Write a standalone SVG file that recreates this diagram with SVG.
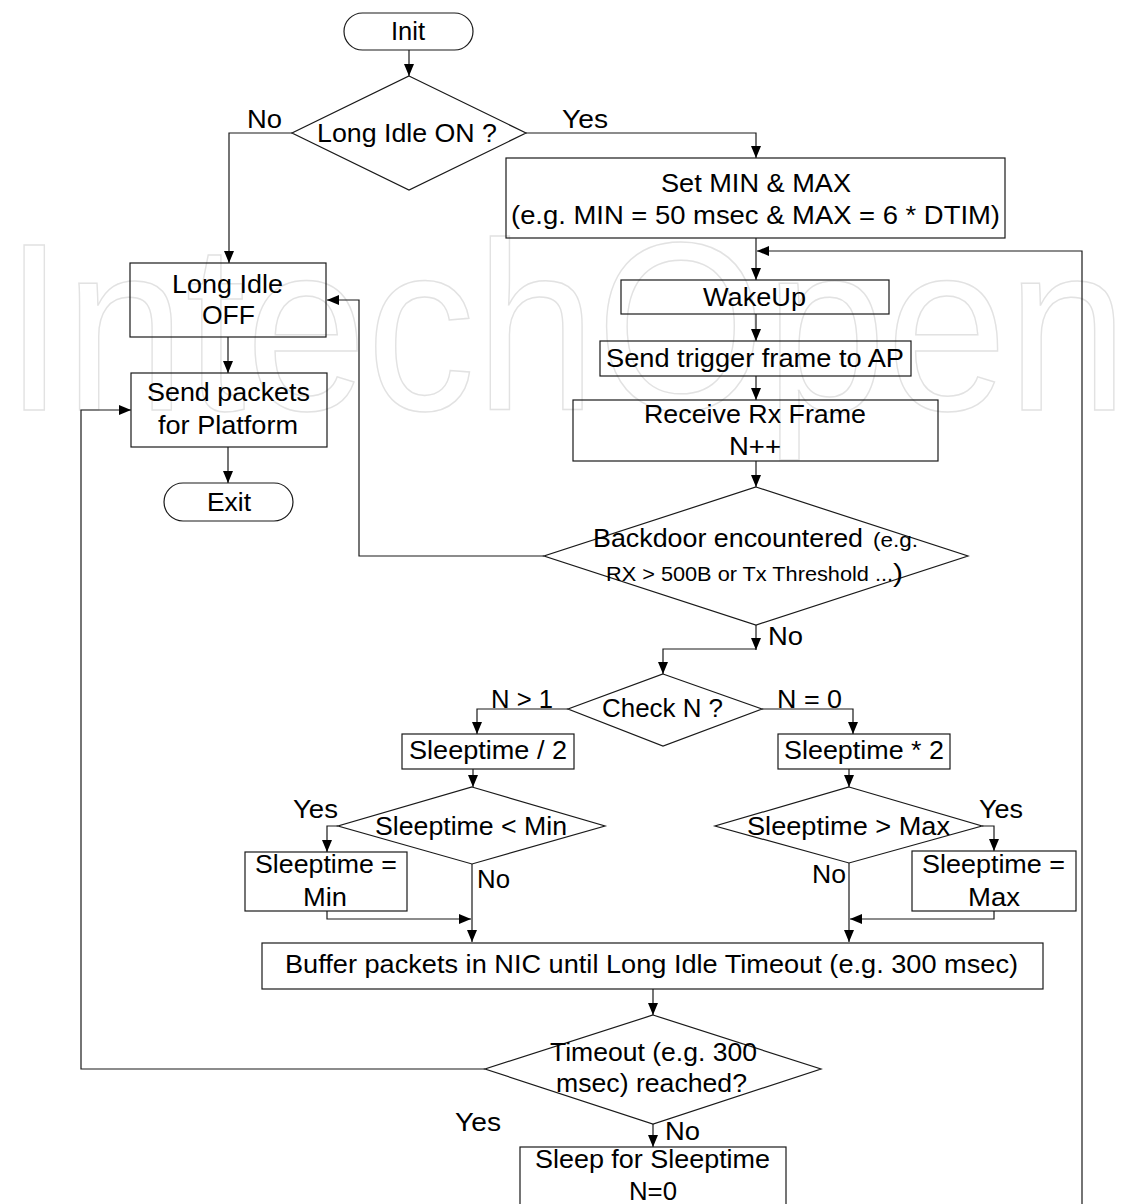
<svg xmlns="http://www.w3.org/2000/svg" width="1145" height="1204" viewBox="0 0 1145 1204">
<style>
.bg{fill:#fff}
.wm{fill:none;stroke:#e2e2e2;stroke-width:1.5;font-family:"Liberation Sans",Arial,sans-serif;font-size:240px}
.box{fill:none;stroke:#1a1a1a;stroke-width:1.2}
.ln{fill:none;stroke:#1a1a1a;stroke-width:1.2}
.ar{marker-end:url(#ah)}
text.t{font-family:"Liberation Sans",Arial,sans-serif;font-size:26px;fill:#000}
text.s{font-family:"Liberation Sans",Arial,sans-serif;font-size:21px;fill:#000}
</style>
<defs>
<marker id="ah" markerUnits="userSpaceOnUse" markerWidth="13" markerHeight="11" refX="12" refY="5" orient="auto">
<path d="M0,0 L12,5 L0,10 z" fill="#000"/>
</marker>
</defs>
<rect class="bg" x="0" y="0" width="1145" height="1204"/>
<text class="wm" x="4" y="410" textLength="1124" lengthAdjust="spacingAndGlyphs">IntechOpen</text>

<g id="connectors">
<path class="ln ar" d="M409,50 V76"/>
<path class="ln ar" d="M292,133 H229 V263"/>
<path class="ln ar" d="M526,133 H756 V158"/>
<path class="ln ar" d="M756,238 V280"/>
<path class="ln ar" d="M1082,1210 V251 H757"/>
<path class="ln ar" d="M756,314 V341"/>
<path class="ln ar" d="M756,376 V400"/>
<path class="ln ar" d="M756,461 V487"/>
<path class="ln ar" d="M544,556 H359 V300 H327"/>
<path class="ln ar" d="M228,337 V373"/>
<path class="ln ar" d="M228,447 V483"/>
<path class="ln ar" d="M756,625 V650"/>
<path class="ln ar" d="M756,649 H663 V674"/>
<path class="ln ar" d="M568,709 H477 V734"/>
<path class="ln ar" d="M762,709 H853 V734"/>
<path class="ln ar" d="M473,769 V787"/>
<path class="ln ar" d="M849,769 V787"/>
<path class="ln ar" d="M338,826 H327 V852"/>
<path class="ln ar" d="M472,864 V942"/>
<path class="ln ar" d="M327,911 V919 H471"/>
<path class="ln ar" d="M982,826 H994 V851"/>
<path class="ln ar" d="M849,863 V942"/>
<path class="ln ar" d="M994,911 V919 H850"/>
<path class="ln ar" d="M653,989 V1015"/>
<path class="ln ar" d="M485,1069 H81 V410 H131"/>
<path class="ln ar" d="M653,1124 V1147"/>
</g>

<g id="init">
<rect class="box" x="344" y="13" width="129" height="37" rx="18.5"/>
<text class="t" x="391" y="40" textLength="34" lengthAdjust="spacingAndGlyphs">Init</text>
</g>

<g id="longIdleOn">
<polygon class="box" points="409,76 526,133 409,190 292,133"/>
<text class="t" x="317" y="142" textLength="180" lengthAdjust="spacingAndGlyphs">Long Idle ON ?</text>
</g>

<g id="labels">
<text class="t" x="247" y="128" textLength="35" lengthAdjust="spacingAndGlyphs">No</text>
<text class="t" x="562" y="128" textLength="46" lengthAdjust="spacingAndGlyphs">Yes</text>
<text class="t" x="768" y="645" textLength="35" lengthAdjust="spacingAndGlyphs">No</text>
<text class="t" x="491" y="708" textLength="62" lengthAdjust="spacingAndGlyphs">N &gt; 1</text>
<text class="t" x="777" y="708" textLength="65" lengthAdjust="spacingAndGlyphs">N = 0</text>
<text class="t" x="293" y="818" textLength="45" lengthAdjust="spacingAndGlyphs">Yes</text>
<text class="t" x="477" y="888" textLength="33" lengthAdjust="spacingAndGlyphs">No</text>
<text class="t" x="979" y="818" textLength="44" lengthAdjust="spacingAndGlyphs">Yes</text>
<text class="t" x="812" y="883" textLength="34" lengthAdjust="spacingAndGlyphs">No</text>
<text class="t" x="455" y="1131" textLength="46" lengthAdjust="spacingAndGlyphs">Yes</text>
<text class="t" x="665" y="1140" textLength="35" lengthAdjust="spacingAndGlyphs">No</text>
</g>

<g id="setMinMax">
<rect class="box" x="506" y="158" width="499" height="80"/>
<text class="t" x="661" y="192" textLength="190" lengthAdjust="spacingAndGlyphs">Set MIN &amp; MAX</text>
<text class="t" x="511" y="224" textLength="489" lengthAdjust="spacingAndGlyphs">(e.g. MIN = 50 msec &amp; MAX = 6 * DTIM)</text>
</g>

<g id="longIdleOff">
<rect class="box" x="130" y="263" width="196" height="74"/>
<text class="t" x="172" y="293" textLength="111" lengthAdjust="spacingAndGlyphs">Long Idle</text>
<text class="t" x="202" y="324" textLength="53" lengthAdjust="spacingAndGlyphs">OFF</text>
</g>

<g id="sendPackets">
<rect class="box" x="131" y="373" width="196" height="74"/>
<text class="t" x="147" y="401" textLength="163" lengthAdjust="spacingAndGlyphs">Send packets</text>
<text class="t" x="158" y="434" textLength="140" lengthAdjust="spacingAndGlyphs">for Platform</text>
</g>

<g id="exit">
<rect class="box" x="164" y="483" width="129" height="38" rx="19"/>
<text class="t" x="207" y="511" textLength="44" lengthAdjust="spacingAndGlyphs">Exit</text>
</g>

<g id="wakeUp">
<rect class="box" x="621" y="280" width="268" height="34"/>
<text class="t" x="703" y="306" textLength="103" lengthAdjust="spacingAndGlyphs">WakeUp</text>
</g>

<g id="sendTrigger">
<rect class="box" x="600" y="341" width="311" height="35"/>
<text class="t" x="606" y="367" textLength="298" lengthAdjust="spacingAndGlyphs">Send trigger frame to AP</text>
</g>

<g id="receiveRx">
<rect class="box" x="573" y="400" width="365" height="61"/>
<text class="t" x="644" y="423" textLength="222" lengthAdjust="spacingAndGlyphs">Receive Rx Frame</text>
<text class="t" x="729" y="455" textLength="52" lengthAdjust="spacingAndGlyphs">N++</text>
</g>

<g id="backdoor">
<polygon class="box" points="756,487 968,556 756,625 544,556"/>
<text class="t" x="593" y="547" textLength="270" lengthAdjust="spacingAndGlyphs">Backdoor encountered</text>
<text class="s" x="873" y="547" textLength="45" lengthAdjust="spacingAndGlyphs">(e.g.</text>
<text class="s" x="606" y="581" font-size="20" textLength="287" lengthAdjust="spacingAndGlyphs">RX &gt; 500B or Tx Threshold ...</text>
<text class="t" x="893" y="582" textLength="10" lengthAdjust="spacingAndGlyphs">)</text>
</g>

<g id="checkN">
<polygon class="box" points="663,674 762,709 663,746 568,709"/>
<text class="t" x="602" y="717" textLength="121" lengthAdjust="spacingAndGlyphs">Check N ?</text>
</g>

<g id="sleepDiv">
<rect class="box" x="402" y="734" width="172" height="35"/>
<text class="t" x="409" y="759" textLength="158" lengthAdjust="spacingAndGlyphs">Sleeptime / 2</text>
</g>

<g id="sleepMul">
<rect class="box" x="778" y="734" width="172" height="35"/>
<text class="t" x="784" y="759" textLength="160" lengthAdjust="spacingAndGlyphs">Sleeptime * 2</text>
</g>

<g id="ltMin">
<polygon class="box" points="472,787 605,826 472,864 338,826"/>
<text class="t" x="375" y="835" textLength="192" lengthAdjust="spacingAndGlyphs">Sleeptime &lt; Min</text>
</g>

<g id="setMin">
<rect class="box" x="245" y="852" width="162" height="59"/>
<text class="t" x="255" y="873" textLength="142" lengthAdjust="spacingAndGlyphs">Sleeptime =</text>
<text class="t" x="303" y="906" textLength="44" lengthAdjust="spacingAndGlyphs">Min</text>
</g>

<g id="gtMax">
<polygon class="box" points="849,787 982,826 849,863 715,826"/>
<text class="t" x="747" y="835" textLength="203" lengthAdjust="spacingAndGlyphs">Sleeptime &gt; Max</text>
</g>

<g id="setMax">
<rect class="box" x="912" y="851" width="164" height="60"/>
<text class="t" x="922" y="873" textLength="143" lengthAdjust="spacingAndGlyphs">Sleeptime =</text>
<text class="t" x="968" y="906" textLength="52" lengthAdjust="spacingAndGlyphs">Max</text>
</g>

<g id="buffer">
<rect class="box" x="262" y="943" width="781" height="46"/>
<text class="t" x="285" y="973" textLength="733" lengthAdjust="spacingAndGlyphs">Buffer packets in NIC until Long Idle Timeout (e.g. 300 msec)</text>
</g>

<g id="timeout">
<polygon class="box" points="653,1015 821,1069 653,1124 485,1069"/>
<text class="t" x="550" y="1061" textLength="207" lengthAdjust="spacingAndGlyphs">Timeout (e.g. 300</text>
<text class="t" x="556" y="1092" textLength="191" lengthAdjust="spacingAndGlyphs">msec) reached?</text>
</g>

<g id="sleep">
<rect class="box" x="520" y="1147" width="266" height="70"/>
<text class="t" x="535" y="1168" textLength="235" lengthAdjust="spacingAndGlyphs">Sleep for Sleeptime</text>
<text class="t" x="629" y="1200" textLength="48" lengthAdjust="spacingAndGlyphs">N=0</text>
</g>
</svg>
